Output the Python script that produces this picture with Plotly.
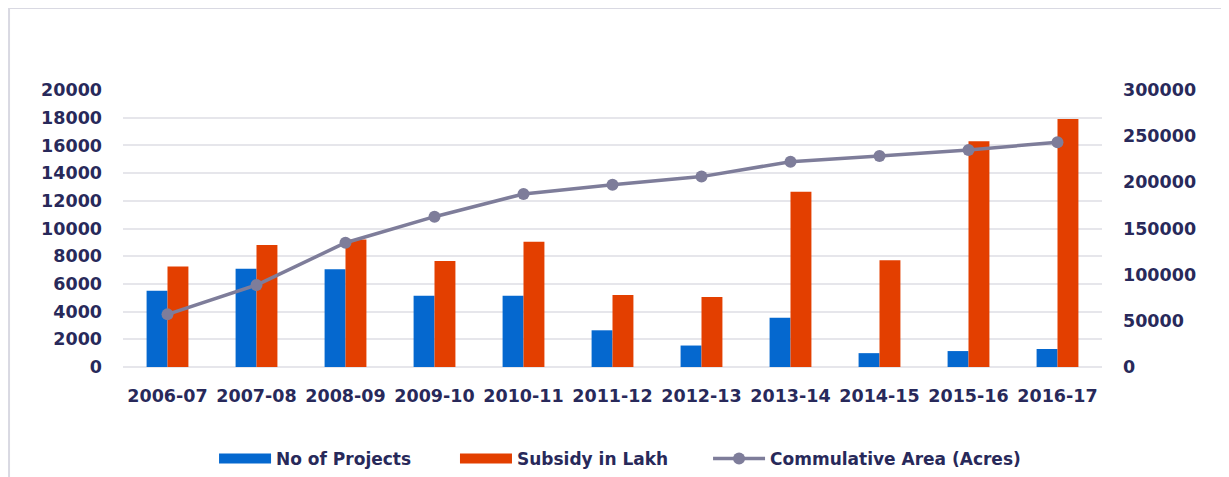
import plotly.graph_objects as go

years = ["2006-07", "2007-08", "2008-09", "2009-10", "2010-11", "2011-12",
         "2012-13", "2013-14", "2014-15", "2015-16", "2016-17"]
projects = [5500, 7100, 7050, 5150, 5150, 2650, 1550, 3550, 1000, 1150, 1300]
subsidy = [7250, 8800, 9200, 7650, 9050, 5200, 5050, 12650, 7700, 16300, 17900]
area = [57000, 88800, 134600, 162800, 187400, 197500, 206200, 222400, 228600, 235100, 243400]

left_ticks = list(range(0, 20001, 2000))
right_ticks = list(range(0, 300001, 50000))

TEXT = "#28295a"
FONT = "DejaVu Sans"
BLUE = "#0568CF"
RED = "#E33F00"
GREY = "#7E7D9A"
TF = dict(family=FONT, size=17.5, color=TEXT, weight="bold")
LF = dict(family=FONT, size=17, color=TEXT, weight="bold")

fig = go.Figure()
fig.add_trace(go.Bar(x=years, y=projects, name="No of Projects", showlegend=False,
                     legendgroup="p", marker=dict(color=BLUE, line=dict(width=0))))
fig.add_trace(go.Bar(x=years, y=subsidy, name="Subsidy in Lakh", showlegend=False,
                     legendgroup="s", marker=dict(color=RED, line=dict(width=0))))
fig.add_trace(go.Scatter(x=years, y=area, name="Commulative Area (Acres)", yaxis="y2",
                         mode="lines+markers", legend="legend3",
                         line=dict(color=GREY, width=3.5),
                         marker=dict(color=GREY, size=12)))
# legend-only entries drawn as wide blocks, as in the original legend
fig.add_trace(go.Scatter(x=[None], y=[None], name="No of Projects", mode="lines",
                         legendgroup="p", legend="legend", line=dict(color=BLUE, width=10)))
fig.add_trace(go.Scatter(x=[None], y=[None], name="Subsidy in Lakh", mode="lines",
                         legendgroup="s", legend="legend2", line=dict(color=RED, width=10)))

LEG = dict(orientation="h", xanchor="left", y=-0.332, yanchor="middle",
           itemwidth=52, font=LF, bgcolor="rgba(0,0,0,0)")

fig.update_layout(
    width=1229, height=477,
    margin=dict(l=115, r=135, t=82, b=118, autoexpand=False),
    paper_bgcolor="white", plot_bgcolor="white",
    barmode="group", bargap=0.53, bargroupgap=0,
    font=dict(family=FONT, color=TEXT, size=17, weight="bold"),
    xaxis=dict(type="category", categoryarray=years, range=[-0.5, len(years) - 0.5],
               showgrid=False, showline=False,
               ticks="", ticklabelstandoff=16, automargin=False, tickangle=0, tickfont=TF),
    yaxis=dict(range=[0, 20000], tickvals=left_ticks, ticktext=[str(v) for v in left_ticks],
               showgrid=True, gridcolor="#E6E6EB", gridwidth=1.5, zeroline=True,
               zerolinecolor="#E6E6EB", zerolinewidth=1.5, ticks="",
               ticklabelstandoff=20, automargin=False, tickfont=TF),
    yaxis2=dict(range=[0, 300000], tickvals=right_ticks, ticktext=[str(v) for v in right_ticks],
                overlaying="y", side="right", showgrid=False, zeroline=False, ticks="",
                ticklabelstandoff=20, automargin=False, tickfont=TF),
    legend=dict(LEG, x=0.0930),
    legend2=dict(LEG, x=0.3391),
    legend3=dict(LEG, x=0.5976),
    shapes=[dict(type="rect", xref="paper", yref="paper",
                 x0=-0.1164, x1=1.1277, y0=-0.45, y1=1.296,
                 line=dict(color="#D9D9E2", width=2), layer="below")],
)

fig.write_html("out.html")
